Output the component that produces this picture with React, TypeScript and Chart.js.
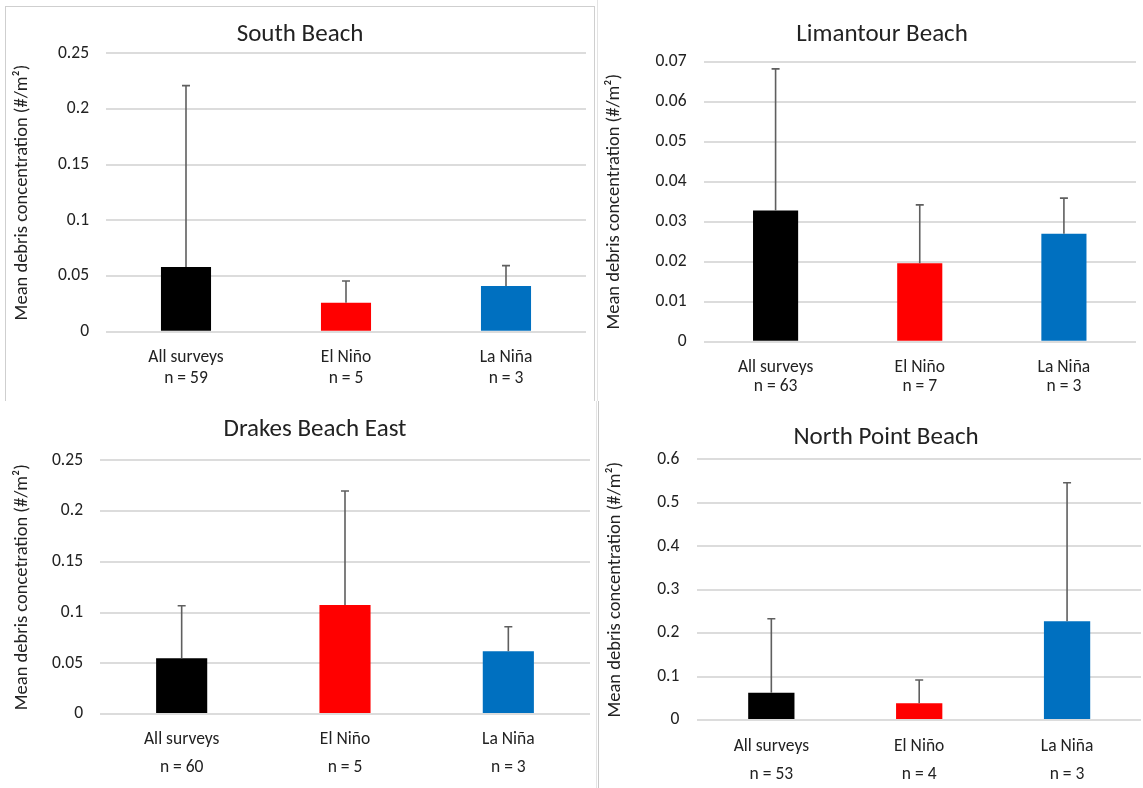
import React, { useEffect, useRef } from 'react';
import { Chart, registerables } from 'chart.js';

Chart.register(...registerables);

// ---------- data ----------
const categories = ['All surveys', 'El Niño', 'La Niña'];
const barColors = ['#000000', '#FF0000', '#0070C0'];

const southTitle = 'South Beach';
const southYTitle = 'Mean debris concentration (#/m²)';
const southMeans = [0.058, 0.026, 0.041];
const southSD = [0.163, 0.0195, 0.0183];
const southN = [59, 5, 3];
const southYMax = 0.25;
const southYStep = 0.05;

const limantourTitle = 'Limantour Beach';
const limantourYTitle = 'Mean debris concentration (#/m²)';
const limantourMeans = [0.0328, 0.0196, 0.027];
const limantourSD = [0.0354, 0.0146, 0.0089];
const limantourN = [63, 7, 3];
const limantourYMax = 0.07;
const limantourYStep = 0.01;

const drakesTitle = 'Drakes Beach East';
const drakesYTitle = 'Mean debris concetration (#/m²)';
const drakesMeans = [0.055, 0.1074, 0.0618];
const drakesSD = [0.0517, 0.1124, 0.0242];
const drakesN = [60, 5, 3];
const drakesYMax = 0.25;
const drakesYStep = 0.05;

const northTitle = 'North Point Beach';
const northYTitle = 'Mean debris concentration (#/m²)';
const northMeans = [0.063, 0.0384, 0.227];
const northSD = [0.17, 0.0536, 0.319];
const northN = [53, 4, 3];
const northYMax = 0.6;
const northYStep = 0.1;

// ---------- styling ----------
const FONT = 'Carlito, Lato, "Open Sans", sans-serif';
const TEXT = '#222222';
const GRID = '#dcdcdc';
const TITLE_SIZE = 25;
const TICK_SIZE = 17.5;
const YTITLE_SIZE = 18.5;

interface PanelCfg {
  left: number; top: number; width: number; height: number;
  title: string; yTitle: string; means: number[]; sd: number[]; n: number[];
  yMax: number; yStep: number;
  padLeft: number; yAxisW: number; xAxisH: number; padRight: number;
  titlePadTop: number; titlePadBottom: number;
  yTitlePad: number; yTickPad: number;
  xTickPad: number; xLineHeight: number;
}

const panels: PanelCfg[] = [
  {
    left: 5, top: 6, width: 590, height: 395,
    title: southTitle, yTitle: southYTitle, means: southMeans, sd: southSD, n: southN,
    yMax: southYMax, yStep: southYStep,
    padLeft: 9, yAxisW: 92, xAxisH: 69.3, padRight: 9,
    titlePadTop: 14, titlePadBottom: 3.3,
    yTitlePad: -3, yTickPad: 17, xTickPad: 15.5, xLineHeight: 1.2,
  },
  {
    left: 597, top: 0, width: 546, height: 401,
    title: limantourTitle, yTitle: limantourYTitle, means: limantourMeans, sd: limantourSD, n: limantourN,
    yMax: limantourYMax, yStep: limantourYStep,
    padLeft: 31, yAxisW: 75.5, xAxisH: 59.3, padRight: 7,
    titlePadTop: 20, titlePadBottom: 11.7,
    yTitlePad: -25, yTickPad: 17, xTickPad: 17, xLineHeight: 1.05,
  },
  {
    left: 0, top: 401, width: 597, height: 387,
    title: drakesTitle, yTitle: drakesYTitle, means: drakesMeans, sd: drakesSD, n: drakesN,
    yMax: drakesYMax, yStep: drakesYStep,
    padLeft: 40, yAxisW: 60, xAxisH: 74, padRight: 7,
    titlePadTop: 14, titlePadBottom: 15.3,
    yTitlePad: -29, yTickPad: 17, xTickPad: 12, xLineHeight: 1.6,
  },
  {
    left: 599, top: 401, width: 544, height: 387,
    title: northTitle, yTitle: northYTitle, means: northMeans, sd: northSD, n: northN,
    yMax: northYMax, yStep: northYStep,
    padLeft: 32, yAxisW: 66.4, xAxisH: 68, padRight: 2,
    titlePadTop: 21.7, titlePadBottom: 6.6,
    yTitlePad: -27, yTickPad: 18, xTickPad: 12.5, xLineHeight: 1.62,
  },
];

function errorBarPlugin(sd: number[]) {
  return {
    id: 'upperErrorBars',
    afterDatasetsDraw(chart: any) {
      const meta = chart.getDatasetMeta(0);
      const yScale = chart.scales.y;
      const values = chart.data.datasets[0].data as number[];
      const ctx = chart.ctx;
      ctx.save();
      ctx.strokeStyle = '#5f5f5f';
      ctx.lineWidth = 1.6;
      meta.data.forEach((bar: any, i: number) => {
        const x = bar.x;
        const y0 = yScale.getPixelForValue(values[i]);
        const y1 = yScale.getPixelForValue(values[i] + sd[i]);
        ctx.beginPath();
        ctx.moveTo(x, y0);
        ctx.lineTo(x, y1);
        ctx.moveTo(x - 4, y1);
        ctx.lineTo(x + 4, y1);
        ctx.stroke();
      });
      ctx.restore();
    },
  };
}

function Panel({ cfg }: { cfg: PanelCfg }) {
  const ref = useRef<HTMLCanvasElement | null>(null);
  useEffect(() => {
    if (!ref.current) return;
    const labels = categories.map((c, i) => [c, `n = ${cfg.n[i]}`]);
    const chart = new Chart(ref.current, {
      type: 'bar',
      data: {
        labels,
        datasets: [
          {
            data: cfg.means,
            backgroundColor: barColors,
            borderWidth: 0,
            barPercentage: 0.313,
            categoryPercentage: 1,
          },
        ],
      },
      options: {
        responsive: false,
        animation: false,
        devicePixelRatio: 1,
        layout: { padding: { left: cfg.padLeft, right: cfg.padRight, top: 0, bottom: 0 } },
        plugins: {
          legend: { display: false },
          tooltip: { enabled: false },
          title: {
            display: true,
            text: cfg.title,
            color: TEXT,
            font: { family: FONT, size: TITLE_SIZE, weight: 'normal', lineHeight: 1.2 },
            padding: { top: cfg.titlePadTop, bottom: cfg.titlePadBottom },
          },
        },
        scales: {
          x: {
            grid: { display: false, drawTicks: false },
            border: { display: false },
            ticks: {
              color: TEXT,
              padding: cfg.xTickPad,
              maxRotation: 0,
              autoSkip: false,
              font: { family: FONT, size: TICK_SIZE, lineHeight: cfg.xLineHeight },
            },
            afterFit: (scale: any) => { scale.height = cfg.xAxisH; },
          },
          y: {
            min: 0,
            max: cfg.yMax,
            grid: { color: GRID, lineWidth: 2, drawTicks: false },
            border: { display: false },
            ticks: {
              stepSize: cfg.yStep,
              color: TEXT,
              padding: cfg.yTickPad,
              font: { family: FONT, size: TICK_SIZE },
              callback: (v: any) => String(Number(Number(v).toFixed(4))),
            },
            title: {
              display: true,
              text: cfg.yTitle,
              color: TEXT,
              font: { family: FONT, size: YTITLE_SIZE, lineHeight: 1.2 },
              padding: { top: cfg.yTitlePad, bottom: 0 },
            },
            afterFit: (scale: any) => { scale.width = cfg.yAxisW; },
          },
        },
      } as any,
      plugins: [errorBarPlugin(cfg.sd)],
    });
    return () => chart.destroy();
  }, [cfg]);
  return (
    <canvas
      ref={ref}
      width={cfg.width}
      height={cfg.height}
      style={{ position: 'absolute', left: cfg.left, top: cfg.top, width: cfg.width, height: cfg.height }}
    />
  );
}

function Line({ x, y, w, h, c }: { x: number; y: number; w: number; h: number; c: string }) {
  return <div style={{ position: 'absolute', left: x, top: y, width: w, height: h, background: c }} />;
}

export default function App() {
  return (
    <div style={{ position: 'absolute', left: 0, top: 0, width: 1143, height: 788, background: '#ffffff', overflow: 'hidden' }}>
      {panels.map((p, i) => (
        <Panel key={i} cfg={p} />
      ))}
      {/* panel frames */}
      <Line x={5} y={6} w={1} h={395} c="#cfcfcf" />
      <Line x={5} y={6} w={589} h={1} c="#cfcfcf" />
      <Line x={594} y={6} w={1} h={395} c="#cfcfcf" />
      <Line x={597} y={0} w={1} h={401} c="#e4e4e4" />
      <Line x={596} y={401} w={1} h={387} c="#e4e4e4" />
      <Line x={598} y={401} w={1} h={387} c="#c8c8c8" />
    </div>
  );
}
